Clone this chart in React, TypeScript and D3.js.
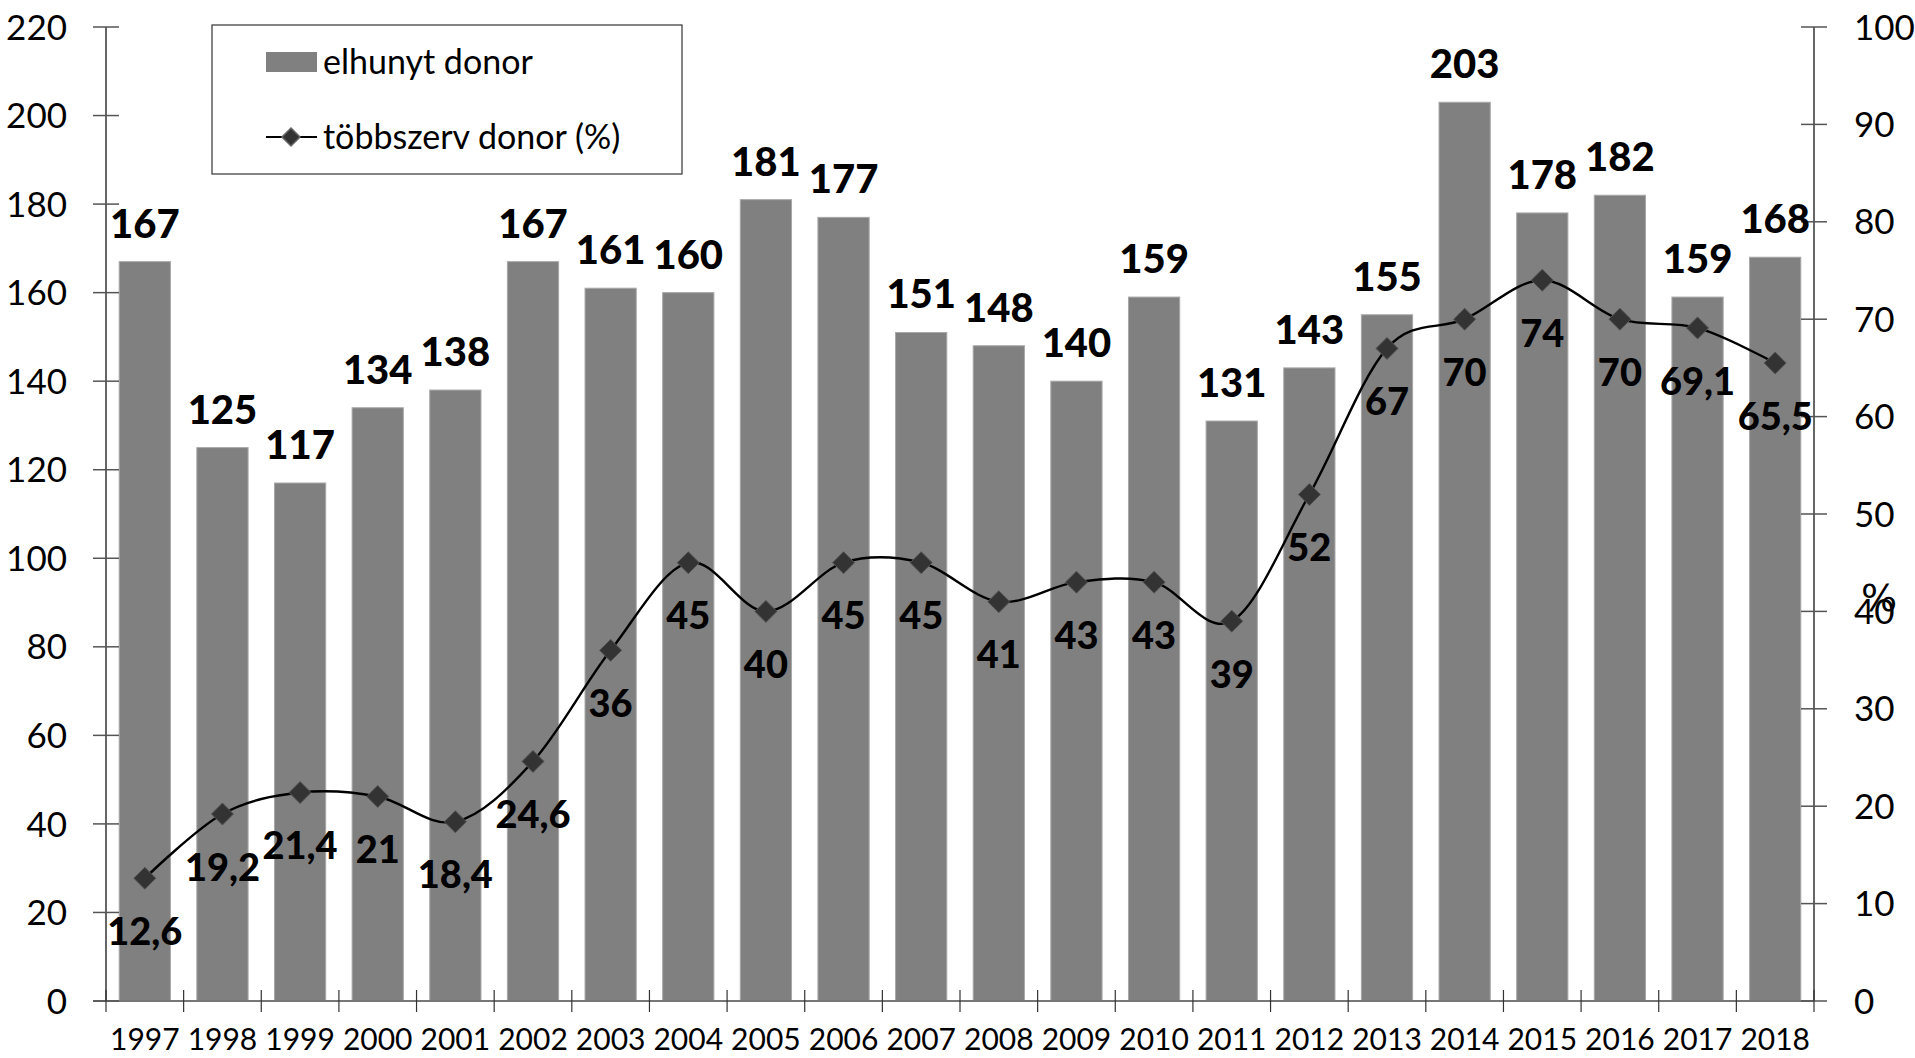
import React, { useEffect, useRef } from 'react';
import * as d3 from 'd3';

const years = ['1997', '1998', '1999', '2000', '2001', '2002', '2003', '2004', '2005', '2006', '2007',
  '2008', '2009', '2010', '2011', '2012', '2013', '2014', '2015', '2016', '2017', '2018'];
const deceasedDonors = [167, 125, 117, 134, 138, 167, 161, 160, 181, 177, 151, 148, 140, 159, 131, 143, 155, 203, 178, 182, 159, 168];
const multiOrganPct = [12.6, 19.2, 21.4, 21, 18.4, 24.6, 36, 45, 40, 45, 45, 41, 43, 43, 39, 52, 67, 70, 74, 70, 69.1, 65.5];
const leftTicks = [0, 20, 40, 60, 80, 100, 120, 140, 160, 180, 200, 220];
const rightTicks = [0, 10, 20, 30, 40, 50, 60, 70, 80, 90, 100];
const legendLabels = ['elhunyt donor', 'többszerv donor (%)'];

const W = 1915;
const H = 1058;
const FONT = 'Lato, "Noto Sans", sans-serif';

export default function App() {
  const ref = useRef<SVGSVGElement>(null);

  useEffect(() => {
    document.body.style.margin = '0';
    const svg = d3.select(ref.current);
    svg.selectAll('*').remove();

    const left = 106, right = 1814, top = 27, bottom = 1001;

    const x = d3.scaleBand<string>().domain(years).range([left, right])
      .paddingInner(0.34).paddingOuter(0.17);
    const yL = d3.scaleLinear().domain([0, 220]).range([bottom, top]);
    const yR = d3.scaleLinear().domain([0, 100]).range([bottom, top]);
    const step = x.step();

    // bars
    svg.append('g').selectAll('rect')
      .data(deceasedDonors)
      .join('rect')
      .attr('x', (d, i) => x(years[i])!)
      .attr('y', d => yL(d))
      .attr('width', x.bandwidth())
      .attr('height', d => bottom - yL(d))
      .attr('fill', '#808080')
      .attr('stroke', '#a8a8a8')
      .attr('stroke-width', 1);

    // axes lines
    const axes = svg.append('g');
    axes.append('line').attr('x1', left).attr('x2', left).attr('y1', top).attr('y2', bottom)
      .attr('stroke', '#000').attr('stroke-width', 1.2);
    axes.append('line').attr('x1', right).attr('x2', right).attr('y1', top).attr('y2', bottom)
      .attr('stroke', '#000').attr('stroke-width', 1.2);
    axes.append('line').attr('x1', left - 13).attr('x2', right).attr('y1', bottom).attr('y2', bottom)
      .attr('stroke', '#777').attr('stroke-width', 2);

    // left ticks
    axes.selectAll('.lt').data(leftTicks).join('line')
      .attr('x1', left - 13).attr('x2', left + 13)
      .attr('y1', d => yL(d)).attr('y2', d => yL(d))
      .attr('stroke', '#555').attr('stroke-width', 1.5);
    axes.selectAll('.ltl').data(leftTicks).join('text')
      .attr('x', left - 39).attr('y', d => yL(d)).attr('dy', '0.36em')
      .attr('text-anchor', 'end')
      .style('font-family', FONT).style('font-size', '35px').attr('fill', '#000')
      .text(d => d);

    // right ticks
    axes.selectAll('.rt').data(rightTicks).join('line')
      .attr('x1', right - 13).attr('x2', right + 13)
      .attr('y1', d => yR(d)).attr('y2', d => yR(d))
      .attr('stroke', '#555').attr('stroke-width', 1.5);
    axes.selectAll('.rtl').data(rightTicks).join('text')
      .attr('x', right + 40).attr('y', d => yR(d)).attr('dy', '0.36em')
      .attr('text-anchor', 'start')
      .style('font-family', FONT).style('font-size', '35px').attr('fill', '#000')
      .text(d => d);
    axes.append('text')
      .attr('x', 1879).attr('y', 597).attr('dy', '0.36em')
      .attr('text-anchor', 'middle')
      .style('font-family', '"DejaVu Sans", sans-serif').style('font-size', '38px')
      .text('%');

    // x ticks at category boundaries
    axes.selectAll('.xt').data(d3.range(years.length + 1)).join('line')
      .attr('x1', i => left + i * step).attr('x2', i => left + i * step)
      .attr('y1', bottom - 11).attr('y2', bottom + 11)
      .attr('stroke', '#333').attr('stroke-width', 1.2);
    axes.selectAll('.xl').data(years).join('text')
      .attr('x', d => x(d)! + x.bandwidth() / 2).attr('y', 1050)
      .attr('text-anchor', 'middle')
      .style('font-family', FONT).style('font-size', '30px').attr('fill', '#000')
      .text(d => d);

    // bar labels
    svg.append('g').selectAll('text')
      .data(deceasedDonors)
      .join('text')
      .attr('x', (d, i) => x(years[i])! + x.bandwidth() / 2)
      .attr('y', d => yL(d) - 24)
      .attr('text-anchor', 'middle')
      .style('font-family', FONT).style('font-size', '40px').style('font-weight', '900')
      .text(d => d);

    // smoothed line
    const cx = (i: number) => x(years[i])! + x.bandwidth() / 2;
    const line = d3.line<number>()
      .x((d, i) => cx(i))
      .y(d => yR(d))
      .curve(d3.curveCardinal.tension(0));
    svg.append('path')
      .datum(multiOrganPct)
      .attr('d', line)
      .attr('fill', 'none')
      .attr('stroke', '#000')
      .attr('stroke-width', 2.4);

    const diamond = 'M0,-11L11,0L0,11L-11,0Z';
    svg.append('g').selectAll('path')
      .data(multiOrganPct)
      .join('path')
      .attr('d', diamond)
      .attr('transform', (d, i) => `translate(${cx(i)},${yR(d)})`)
      .attr('fill', '#333')
      .attr('stroke', '#555')
      .attr('stroke-width', 1);

    svg.append('g').selectAll('text')
      .data(multiOrganPct)
      .join('text')
      .attr('x', (d, i) => cx(i))
      .attr('y', d => yR(d) + 53)
      .attr('dy', '0.36em')
      .attr('text-anchor', 'middle')
      .style('font-family', FONT).style('font-size', '38px').style('font-weight', '900')
      .text(d => String(d).replace('.', ','));

    // legend
    const lg = svg.append('g');
    lg.append('rect').attr('x', 212).attr('y', 25).attr('width', 470).attr('height', 149)
      .attr('fill', '#fff').attr('stroke', '#333').attr('stroke-width', 1.2);
    lg.append('rect').attr('x', 266).attr('y', 52).attr('width', 51).attr('height', 20)
      .attr('fill', '#808080');
    lg.append('line').attr('x1', 266).attr('x2', 317).attr('y1', 137).attr('y2', 137)
      .attr('stroke', '#000').attr('stroke-width', 2.2);
    lg.append('path').attr('d', 'M0,-9L9,0L0,9L-9,0Z')
      .attr('transform', 'translate(291,137)')
      .attr('fill', '#333').attr('stroke', '#666').attr('stroke-width', 1.5);
    lg.selectAll('text').data(legendLabels).join('text')
      .attr('x', 323).attr('y', (d, i) => (i === 0 ? 62 : 137)).attr('dy', '0.36em')
      .style('font-family', FONT).style('font-size', '34px').attr('fill', '#000')
      .text(d => d);
  }, []);

  return <svg ref={ref} width={W} height={H} style={{ display: 'block', background: '#fff' }} />;
}
